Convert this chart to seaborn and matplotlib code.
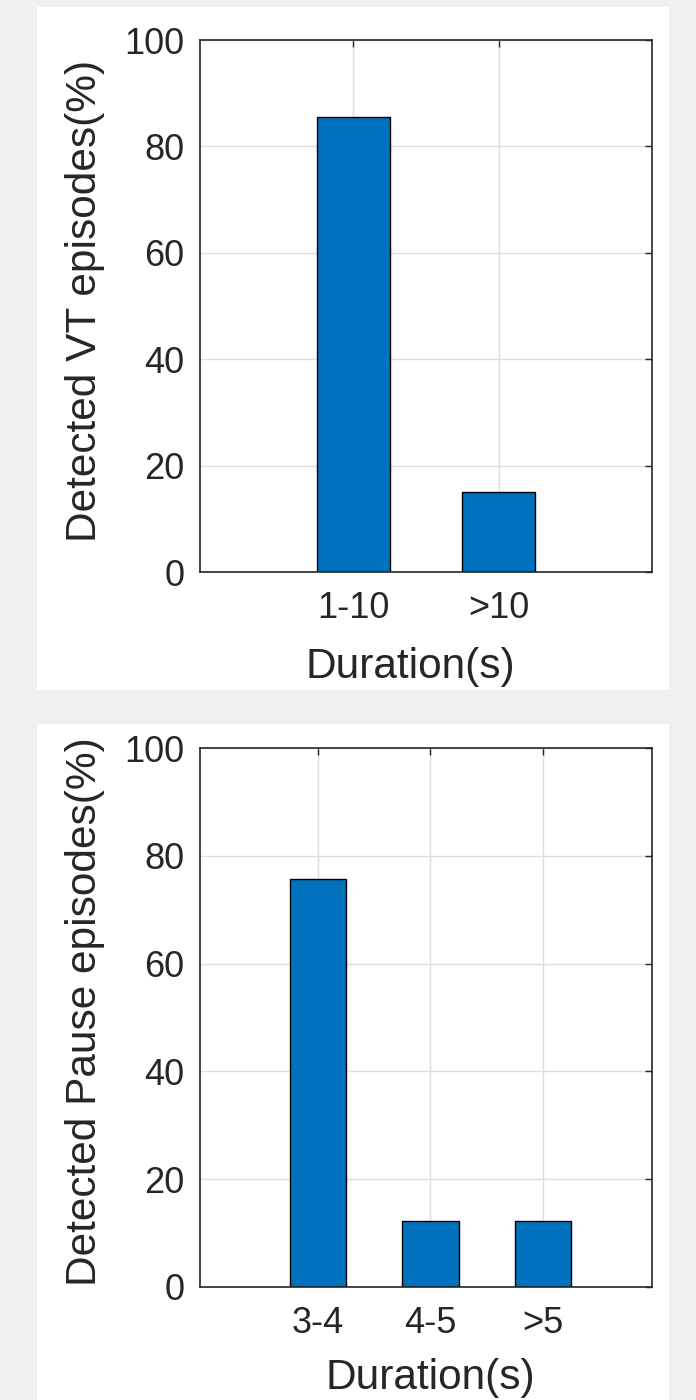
import matplotlib
matplotlib.use("Agg")
import matplotlib.pyplot as plt
import seaborn as sns
from matplotlib.patches import Rectangle

# data
vt_labels = ["1-10", ">10"]
vt_values = [85.5, 15.0]
pause_labels = ["3-4", "4-5", ">5"]
pause_values = [75.7, 12.2, 12.2]
yticks = [0, 20, 40, 60, 80, 100]

sns.set_style("white")
plt.rcParams['font.family'] = ['Liberation Sans', 'DejaVu Sans']

W, H = 696, 1400
fig = plt.figure(figsize=(W / 100, H / 100), dpi=100)
fig.patch.set_facecolor("#f0f0f0")

# white panels behind each axes
for (x0, y0, x1, y1) in [(37, 7, 669, 690), (37, 724, 669, 1400)]:
    fig.patches.append(Rectangle((x0 / W, 1 - y1 / H), (x1 - x0) / W, (y1 - y0) / H,
                                 transform=fig.transFigure, facecolor="white",
                                 edgecolor="none", zorder=-10))

ink = "#262626"


def panel(box, labels, values, ylabel, xlim, xlab_x, xlab_pad):
    left, top, right, bottom = box
    ax = fig.add_axes([left / W, 1 - bottom / H, (right - left) / W, (bottom - top) / H])
    sns.barplot(x=labels, y=values, color="#0072BD", edgecolor="black",
                linewidth=1.0, width=0.5, saturation=1, ax=ax)
    ax.set_xlim(*xlim)
    ax.set_ylim(0, 100)
    ax.set_yticks(yticks)
    ax.set_axisbelow(True)
    ax.grid(True, color="#dedede", linewidth=1.0)
    for s in ax.spines.values():
        s.set_color(ink)
        s.set_linewidth(1.2)
        s.set_visible(True)
    ax.tick_params(direction="in", length=5, width=1, colors=ink, labelsize=26,
                   top=True, right=True, pad=11)
    ax.tick_params(axis="x", pad=14)
    ax.set_xlabel("Duration(s)", fontsize=30.5, color=ink, labelpad=xlab_pad)
    ax.xaxis.label.set_x(xlab_x)
    ax.set_ylabel(ylabel, fontsize=30.5, color=ink, labelpad=14)
    ax.yaxis.label.set_y(0.51)
    return ax


panel((200, 40, 652, 572), vt_labels, vt_values, "Detected VT episodes(%)",
      (-1.05, 2.05), 0.465, 15)
panel((200, 748, 652, 1287), pause_labels, pause_values, "Detected Pause episodes(%)",
      (-1.05, 2.97), 0.51, 12)

fig.savefig("out.png", dpi=100, facecolor=fig.get_facecolor())
